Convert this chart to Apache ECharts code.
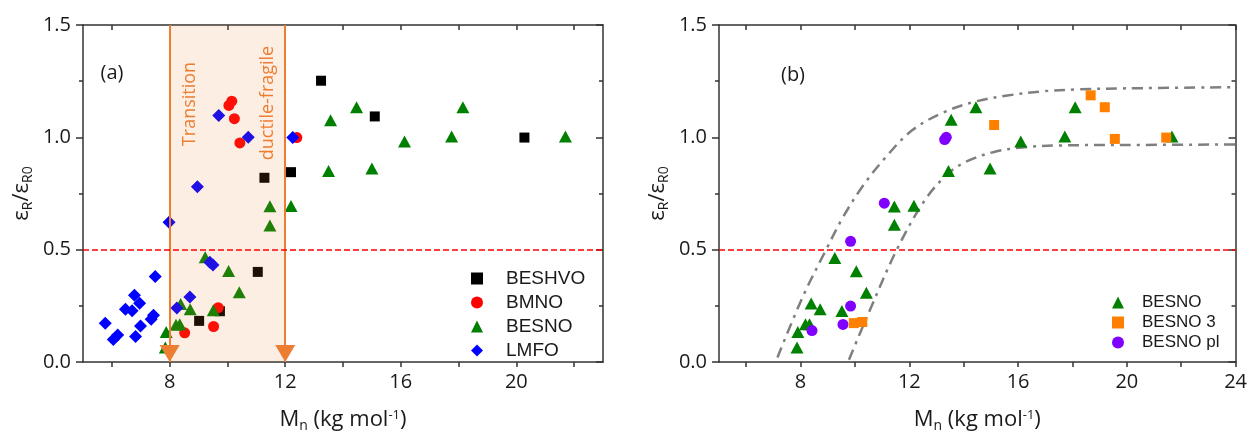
<!DOCTYPE html>
<html>
<head>
<meta charset="utf-8">
<script src="https://cdn.jsdelivr.net/npm/echarts@6/dist/echarts.min.js"></script>
<style>
html,body{margin:0;padding:0;background:#fff;}
#c{width:1250px;height:438px;}
</style>
</head>
<body>
<div id="c"></div>
<script>
// ---------- data ----------
const beshvoA = [[9.02,0.183],[9.74,0.226],[11.05,0.401],[11.28,0.82],[12.2,0.845],[13.24,1.252],[15.1,1.093],[20.28,0.999]];
const bmnoA = [[8.52,0.13],[9.52,0.158],[9.68,0.242],[10.05,1.142],[10.15,1.161],[10.24,1.083],[10.43,0.975],[12.4,0.999]];
const besnoA = [[7.85,0.065],[7.88,0.134],[8.22,0.166],[8.35,0.168],[8.38,0.258],[8.71,0.235],[9.23,0.466],[9.51,0.23],[10.04,0.405],[10.41,0.31],[11.47,0.693],[11.47,0.608],[12.2,0.694],[13.5,0.85],[13.57,1.076],[14.47,1.134],[15.0,0.861],[16.13,0.981],[17.76,1.004],[18.15,1.134],[21.7,1.004]];
const lmfoA = [[5.77,0.173],[6.05,0.10],[6.2,0.12],[6.47,0.235],[6.7,0.228],[6.78,0.297],[6.96,0.262],[6.82,0.114],[6.99,0.16],[7.36,0.19],[7.44,0.208],[7.5,0.381],[7.98,0.622],[8.25,0.24],[8.7,0.289],[8.96,0.78],[9.39,0.444],[9.5,0.432],[9.7,1.097],[10.72,1.0],[12.26,0.999]];

const besnoB = [[7.87,0.065],[7.9,0.134],[8.18,0.168],[8.33,0.168],[8.39,0.26],[8.72,0.235],[9.26,0.463],[9.52,0.227],[10.05,0.404],[10.42,0.308],[11.45,0.692],[11.45,0.611],[12.17,0.695],[13.44,0.85],[13.54,1.078],[14.45,1.134],[14.97,0.861],[16.1,0.981],[17.72,1.004],[18.1,1.134],[21.66,1.004]];
const besno3B = [[9.96,0.173],[10.27,0.178],[15.12,1.055],[18.67,1.187],[19.19,1.134],[19.56,0.993],[21.45,0.999]];
const besnoPlB = [[8.42,0.14],[9.56,0.167],[9.84,0.249],[9.84,0.537],[11.08,0.707],[13.3,0.99],[13.36,1.0]];
const upperFitB = [[7.15,0.02],[8.08,0.29],[8.94,0.5],[9.54,0.64],[10.27,0.78],[11.12,0.91],[12.09,1.03],[13.24,1.11],[14.45,1.16],[15.6,1.186],[16.93,1.205],[18.15,1.213],[19.96,1.218],[24,1.223]];
const lowerFitB = [[9.78,0.01],[10.51,0.22],[11.54,0.5],[12.57,0.72],[13.44,0.84],[14.15,0.895],[15.12,0.935],[16.15,0.955],[17.54,0.964],[19.96,0.966],[24,0.968]];

const thresholdY = 0.5;
const transitionX = [8, 12];
const xTicksA = [6,8,10,12,14,16,18,20,22];
const xLabelsA = [8,12,16,20];
const xTicksB = [6,8,10,12,14,16,18,20,22,24];
const xLabelsB = [8,12,16,20,24];
const xRangeA = [5, 23];
const xRangeB = [5, 24];
const yRange = [0, 1.5];
const legendA = ['BESHVO','BMNO','BESNO','LMFO'];
const legendB = ['BESNO','BESNO 3','BESNO pl'];

// ---------- styling ----------
const AX = '#333';
const TXT = '#1a1a1a';
const FONT = 'Open Sans';
const ORANGE = '#ED7D31';

const richName = {
  m: {fontSize: 22, fontFamily: FONT, color: TXT, lineHeight: 24, verticalAlign: 'top'},
  sub: {fontSize: 14, fontFamily: FONT, color: TXT, lineHeight: 14, padding: [13,0,0,0], verticalAlign: 'bottom'},
  sup: {fontSize: 13, fontFamily: FONT, color: TXT, lineHeight: 13, verticalAlign: 'top'}
};
const xName = '{m|M}{sub|n}{m| (kg mol}{sup|-1}{m|)}';
const yName = '{m|ε}{sub|R}{m|/ε}{sub|R0}';

function xAxes(gi, range, ticks, labels) {
  const base = {type: 'value', gridIndex: gi, min: range[0], max: range[1], splitLine: {show: false}};
  return [
    Object.assign({}, base, {
      position: 'bottom',
      axisLine: {show: true, onZero: false, lineStyle: {color: AX, width: 1.5}},
      axisTick: {show: true, inside: false, length: 5, customValues: ticks, lineStyle: {color: AX, width: 1.5}},
      axisLabel: {show: true, customValues: labels, fontSize: 20, fontFamily: FONT, color: TXT, margin: 10},
      name: xName, nameLocation: 'middle', nameGap: 47, nameTextStyle: {rich: richName}
    }),
    Object.assign({}, base, {
      position: 'top',
      axisLine: {show: true, onZero: false, lineStyle: {color: AX, width: 1.5}},
      axisTick: {show: true, inside: true, length: 5, customValues: ticks, lineStyle: {color: AX, width: 1.5}},
      axisLabel: {show: false}
    })
  ];
}
function yAxes(gi) {
  const base = {type: 'value', gridIndex: gi, min: yRange[0], max: yRange[1], interval: 0.5, splitLine: {show: false}};
  return [
    Object.assign({}, base, {
      position: 'left',
      axisLine: {show: true, onZero: false, lineStyle: {color: AX, width: 1.5}},
      axisTick: {show: true, inside: false, length: 7, lineStyle: {color: AX, width: 1.5}},
      minorTick: {show: true, splitNumber: 2, length: 4, lineStyle: {color: AX, width: 1.5}},
      axisLabel: {fontSize: 20, fontFamily: FONT, color: TXT, margin: 12, formatter: v => v.toFixed(1)},
      name: yName, nameLocation: 'middle', nameGap: 48, nameTextStyle: {rich: richName}
    }),
    Object.assign({}, base, {
      position: 'right',
      axisLine: {show: true, onZero: false, lineStyle: {color: AX, width: 1.5}},
      axisTick: {show: true, inside: true, length: 7, lineStyle: {color: AX, width: 1.5}},
      minorTick: {show: true, splitNumber: 2, length: 4, lineStyle: {color: AX, width: 1.5}},
      axisLabel: {show: false}
    })
  ];
}

function scatter(name, data, xi, yi, symbol, size, color, z) {
  return {name, type: 'scatter', data, xAxisIndex: xi, yAxisIndex: yi, symbol, symbolSize: size,
    itemStyle: {color, opacity: 1}, z: z || 2, emphasis: {disabled: true}, animation: false};
}

const redLine = {
  silent: true, symbol: ['none','none'], z: 4,
  lineStyle: {color: '#ff0000', type: [6,3], width: 1.6},
  label: {show: false},
  data: [{yAxis: thresholdY}]
};

const option = {
  animation: false,
  backgroundColor: '#fff',
  grid: [
    {left: 83, top: 25, width: 520, height: 338},
    {left: 719, top: 25, width: 520, height: 338}
  ],
  xAxis: [].concat(xAxes(0, xRangeA, xTicksA, xLabelsA), xAxes(1, xRangeB, xTicksB, xLabelsB)),
  yAxis: [].concat(yAxes(0), yAxes(1)),
  legend: [
    {orient: 'vertical', left: 466, top: 264, itemWidth: 12, itemHeight: 12, itemGap: 5,
     textStyle: {fontSize: 19, fontFamily: 'Liberation Sans', color: TXT, padding: [0,0,0,18]}, data: legendA, selectedMode: false},
    {orient: 'vertical', left: 1107, top: 289, itemWidth: 12, itemHeight: 12, itemGap: 3,
     textStyle: {fontSize: 17, fontFamily: 'Liberation Sans', color: TXT, padding: [0,0,0,13]}, data: legendB, selectedMode: false}
  ],
  graphic: [
    {type: 'text', x: 112, y: 73, style: {text: '(a)', font: '20px "Open Sans"', fill: TXT, align: 'center', verticalAlign: 'middle'}},
    {type: 'text', x: 793, y: 75, style: {text: '(b)', font: '20px "Open Sans"', fill: TXT, align: 'center', verticalAlign: 'middle'}},
    {type: 'text', x: 190, y: 104, rotation: Math.PI/2, z: 20, style: {text: 'Transition', font: '18px "Open Sans"', fill: ORANGE, align: 'center', verticalAlign: 'middle'}},
    {type: 'text', x: 268, y: 103, rotation: Math.PI/2, z: 20, style: {text: 'ductile-fragile', font: '18px "Open Sans"', fill: ORANGE, align: 'center', verticalAlign: 'middle'}}
  ],
  series: [
    scatter('BESHVO', beshvoA, 0, 0, 'rect', 10, '#000000'),
    scatter('BMNO', bmnoA, 0, 0, 'circle', 11, '#ff0000'),
    scatter('BESNO', besnoA, 0, 0, 'triangle', [13,12], '#008000'),
    scatter('LMFO', lmfoA, 0, 0, 'diamond', 13, '#0000ff'),
    {
      name: 'overlayA', type: 'line', data: [], xAxisIndex: 0, yAxisIndex: 0, z: 5, silent: true,
      markArea: {silent: true, z: 5, itemStyle: {color: 'rgba(237,125,49,0.13)'},
        data: [[{xAxis: transitionX[0]}, {xAxis: transitionX[1]}]]},
      markLine: {
        silent: true, symbol: ['none','none'], z: 6, label: {show: false},
        lineStyle: {color: ORANGE, type: 'solid', width: 2},
        data: [
          [{coord: [transitionX[0], yRange[1]]}, {coord: [transitionX[0], yRange[0]]}],
          [{coord: [transitionX[1], yRange[1]]}, {coord: [transitionX[1], yRange[0]]}],
          {yAxis: thresholdY, lineStyle: {color: '#ff0000', type: [6,3], width: 1.6}}
        ]
      },
      markPoint: {
        silent: true, z: 7, symbol: 'triangle', symbolRotate: 180, symbolSize: [20,17], symbolOffset: [0,-8.5],
        itemStyle: {color: ORANGE}, label: {show: false},
        data: [{coord: [transitionX[0], yRange[0]]}, {coord: [transitionX[1], yRange[0]]}]
      }
    },
    {
      name: 'fitUpper', type: 'line', data: upperFitB, xAxisIndex: 2, yAxisIndex: 2, smooth: 0.35, symbol: 'none', z: 1,
      lineStyle: {color: '#7f7f7f', width: 2.5, type: [11,6,3,6]}, silent: true
    },
    {
      name: 'fitLower', type: 'line', data: lowerFitB, xAxisIndex: 2, yAxisIndex: 2, smooth: 0.35, symbol: 'none', z: 1,
      lineStyle: {color: '#7f7f7f', width: 2.5, type: [11,6,3,6]}, silent: true,
      markLine: redLine
    },
    scatter('BESNO', besnoB, 2, 2, 'triangle', [13,12], '#008000'),
    scatter('BESNO 3', besno3B, 2, 2, 'rect', 10, '#ff8000'),
    scatter('BESNO pl', besnoPlB, 2, 2, 'circle', 11, '#8000ff')
  ]
};

const chart = echarts.init(document.getElementById('c'), null, {renderer: 'canvas'});
chart.setOption(option);
</script>
</body>
</html>
